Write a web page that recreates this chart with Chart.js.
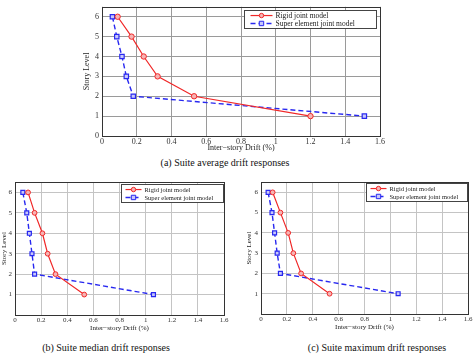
<!DOCTYPE html>
<html>
<head>
<meta charset="utf-8">
<script src="https://cdn.jsdelivr.net/npm/chart.js@4.4.1/dist/chart.umd.min.js"></script>
<style>
  html, body { margin: 0; padding: 0; background: #fff; overflow: hidden; }
  body { width: 474px; height: 359px; position: relative; }
  .box { position: absolute; }
  .cap {
    position: absolute;
    font-family: "Liberation Serif", "Times New Roman", serif;
    font-size: 10px;
    color: #111;
    white-space: nowrap;
    transform: translate(-50%, -50%);
  }
</style>
</head>
<body>
<div class="box" style="left:82px; top:-1px; width:308px; height:154px;"><canvas id="chartAvg"></canvas></div>
<div class="box" style="left:0px; top:175px; width:232px; height:157px;"><canvas id="chartMed"></canvas></div>
<div class="box" style="left:245px; top:175px; width:229px; height:156px;"><canvas id="chartMax"></canvas></div>

<div class="cap" style="left:225px; top:162px;">(a) Suite average drift responses</div>
<div class="cap" style="left:106px; top:347px;">(b) Suite median drift responses</div>
<div class="cap" style="left:377px; top:347px;">(c) Suite maximum drift responses</div>

<script>
// story levels (y) shared by all three panels
const storyLevels = [6, 5, 4, 3, 2, 1];

// (a) suite average
const avgRigid = [0.09, 0.17, 0.24, 0.32, 0.53, 1.20];
const avgSuper = [0.06, 0.085, 0.115, 0.14, 0.18, 1.51];
// (b) suite median
const medRigid = [0.10, 0.15, 0.21, 0.25, 0.31, 0.53];
const medSuper = [0.06, 0.09, 0.11, 0.13, 0.15, 1.06];
// (c) suite maximum
const maxRigid = [0.09, 0.15, 0.21, 0.25, 0.31, 0.53];
const maxSuper = [0.055, 0.085, 0.105, 0.125, 0.15, 1.06];

const xTickValues = [0, 0.2, 0.4, 0.6, 0.8, 1, 1.2, 1.4, 1.6];
const yTickValues = [0, 1, 2, 3, 4, 5, 6];
const seriesNames = ['Rigid joint model', 'Super element joint model'];

const SERIF = '"Liberation Serif", "Times New Roman", serif';
const RED = '#f02828';
const BLUE = '#2828f0';

function toPoints(xs) {
  return xs.map((x, i) => ({ x: x, y: storyLevels[i] }));
}

// frame around plot area + boxed legend in upper right corner
const framePlugin = {
  id: 'frameLegend',
  afterDatasetsDraw(chart, args, opts) {
    const ctx = chart.ctx;
    const a = chart.chartArea;
    ctx.save();
    ctx.strokeStyle = '#333';
    ctx.lineWidth = 1;
    ctx.strokeRect(Math.round(a.left) + 0.5, Math.round(a.top) + 0.5,
                   Math.round(a.right - a.left), Math.round(a.bottom - a.top));

    const w = opts.w, h = opts.h;
    const bx = Math.round(a.right - opts.dx - w) + 0.5;
    const by = Math.round(a.top + opts.dy) + 0.5;
    ctx.fillStyle = '#fff';
    ctx.fillRect(bx, by, w, h);
    ctx.strokeStyle = '#444';
    ctx.strokeRect(bx, by, w, h);

    ctx.font = opts.fontSize + 'px ' + SERIF;
    ctx.textBaseline = 'middle';
    chart.data.datasets.forEach((ds, i) => {
      const cy = by + h * (i === 0 ? 0.28 : 0.72);
      const x0 = bx + opts.pad, x1 = x0 + opts.line;
      ctx.strokeStyle = ds.borderColor;
      ctx.lineWidth = ds.borderWidth;
      ctx.setLineDash(ds.borderDash || []);
      ctx.beginPath();
      ctx.moveTo(x0, cy);
      ctx.lineTo(x1, cy);
      ctx.stroke();
      ctx.setLineDash([]);
      ctx.lineWidth = 1;
      ctx.fillStyle = ds.pointBackgroundColor;
      const mx = (x0 + x1) / 2, r = 2.2;
      ctx.beginPath();
      if (ds.pointStyle === 'rect') ctx.rect(mx - r, cy - r, 2 * r, 2 * r);
      else ctx.arc(mx, cy, r, 0, Math.PI * 2);
      ctx.fill();
      ctx.stroke();
      ctx.fillStyle = '#222';
      ctx.fillText(ds.label, x1 + 3, cy + 0.5);
    });
    ctx.restore();
  }
};

function makeChart(id, rigid, superEl, cfg) {
  const ctx = document.getElementById(id).getContext('2d');
  return new Chart(ctx, {
    type: 'scatter',
    data: {
      datasets: [
        {
          label: seriesNames[0],
          data: toPoints(rigid),
          showLine: true,
          borderColor: RED,
          borderWidth: 1.2,
          pointStyle: 'circle',
          pointRadius: cfg.markR,
          pointBorderWidth: 1,
          pointBorderColor: RED,
          pointBackgroundColor: '#f6b4b4',
          tension: 0
        },
        {
          label: seriesNames[1],
          data: toPoints(superEl),
          showLine: true,
          borderColor: BLUE,
          borderWidth: 1.4,
          borderDash: [5, 3],
          pointStyle: 'rect',
          pointRadius: cfg.markR + 0.4,
          pointBorderWidth: 1.2,
          pointBorderColor: BLUE,
          pointBackgroundColor: '#c8c8fa',
          tension: 0
        }
      ]
    },
    options: {
      responsive: true,
      maintainAspectRatio: false,
      animation: false,
      layout: { padding: cfg.padding },
      plugins: {
        legend: { display: false },
        tooltip: { enabled: false },
        frameLegend: cfg.legend
      },
      scales: {
        x: {
          type: 'linear',
          min: 0,
          max: 1.6,
          afterBuildTicks: (s) => { s.ticks = xTickValues.map(v => ({ value: v })); },
          afterFit: (s) => { s.height = cfg.xh; },
          border: { display: false },
          grid: { color: cfg.gridColor, borderDash: cfg.gridDash, drawTicks: false, lineWidth: 1 },
          ticks: {
            padding: 1,
            color: '#333',
            font: { family: SERIF, size: cfg.tickSize },
            maxRotation: 0,
            callback: (v) => String(Math.round(v * 10) / 10)
          },
          title: {
            display: true,
            text: 'Inter\u2212story Drift (%)',
            color: '#222',
            padding: 0,
            font: { family: SERIF, size: cfg.titleSize }
          }
        },
        y: {
          type: 'linear',
          min: 0,
          max: 6.5,
          afterBuildTicks: (s) => { s.ticks = cfg.yTicks.map(v => ({ value: v })); },
          afterFit: (s) => { s.width = cfg.yw; },
          border: { display: false },
          grid: { color: cfg.gridColor, borderDash: cfg.gridDash, drawTicks: false, lineWidth: 1 },
          ticks: {
            padding: 3,
            color: '#333',
            font: { family: SERIF, size: cfg.tickSize }
          },
          title: {
            display: true,
            text: 'Story Level',
            color: '#222',
            padding: { top: 0, bottom: 0 },
            font: { family: SERIF, size: cfg.titleSize }
          }
        }
      }
    },
    plugins: [framePlugin]
  });
}

makeChart('chartAvg', avgRigid, avgSuper, {
  padding: { top: 0, right: 10, left: 0, bottom: 0 },
  xh: 17, yw: 20, markR: 2.7,
  tickSize: 8, titleSize: 8,
  yTicks: yTickValues,
  gridColor: '#9a9a9a', gridDash: [1, 1],
  legend: { w: 132, h: 18, dx: 4, dy: 3, pad: 6, line: 22, fontSize: 7.5 }
});

makeChart('chartMed', medRigid, medSuper, {
  padding: { top: 4, right: 8, left: 0, bottom: 0 },
  xh: 17, yw: 15, markR: 2.4,
  tickSize: 7, titleSize: 7,
  yTicks: yTickValues.slice(1),
  gridColor: '#c4c4c4', gridDash: [],
  legend: { w: 102, h: 18, dx: 1, dy: 2, pad: 4, line: 16, fontSize: 6.5 }
});

makeChart('chartMax', maxRigid, maxSuper, {
  padding: { top: 5, right: 6, left: 0, bottom: 0 },
  xh: 17, yw: 16, markR: 2.4,
  tickSize: 7, titleSize: 7,
  yTicks: yTickValues.slice(1),
  gridColor: '#c4c4c4', gridDash: [],
  legend: { w: 101, h: 18, dx: 1, dy: 1, pad: 4, line: 16, fontSize: 6.5 }
});
</script>
</body>
</html>
